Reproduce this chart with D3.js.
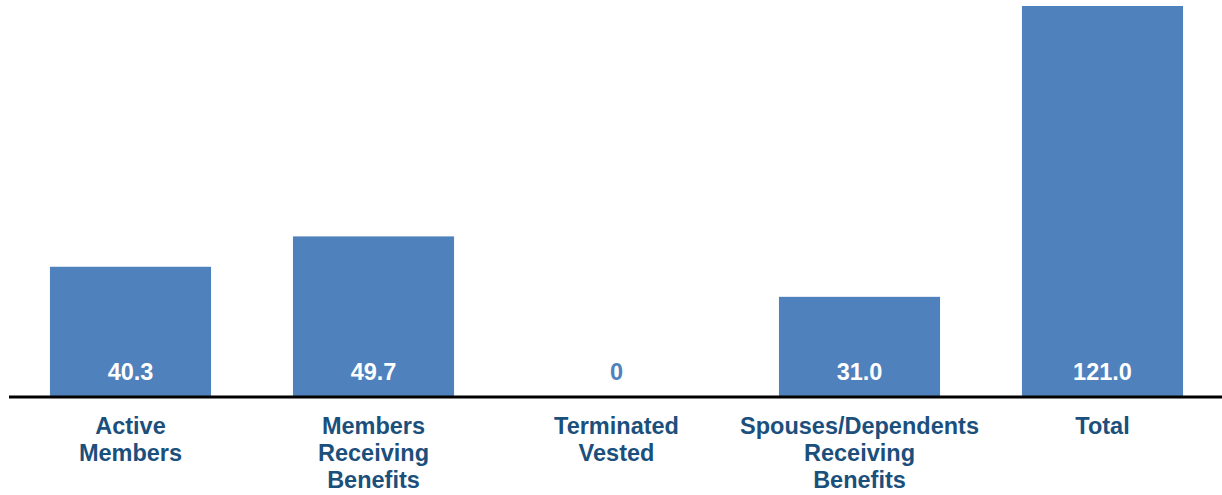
<!DOCTYPE html>
<html>
<head>
<meta charset="utf-8">
<script src="https://cdn.jsdelivr.net/npm/d3@7"></script>
<style>
  html, body { margin: 0; padding: 0; background: #fff; }
  svg { display: block; font-family: "Liberation Sans", Arial, sans-serif; }
</style>
</head>
<body>
<svg id="chart" width="1222" height="495"></svg>
<script>
// Membership counts by category
const categories = [
  ["Active", "Members"],
  ["Members", "Receiving", "Benefits"],
  ["Terminated", "Vested"],
  ["Spouses/Dependents", "Receiving", "Benefits"],
  ["Total"]
];
const values = [40.3, 49.7, 0, 31.0, 121.0];
const valueLabels = ["40.3", "49.7", "0", "31.0", "121.0"];

const barColor = "#4F81BD";
const textColor = "#1B4F7C";

const svg = d3.select("#chart");
const W = 1222;
const baseY = 397;

const x = d3.scaleBand()
  .domain(d3.range(values.length))
  .range([9, 1224])
  .paddingInner(0.337)
  .paddingOuter(0.1685);

const y = d3.scaleLinear()
  .domain([0, 121])
  .range([baseY, 6]);

// Bars
svg.append("g").selectAll("rect")
  .data(values)
  .join("rect")
  .attr("x", (d, i) => x(i))
  .attr("width", x.bandwidth())
  .attr("y", d => y(d))
  .attr("height", d => baseY - y(d))
  .attr("fill", barColor);

// Value labels inside bars, near the base
svg.append("g").selectAll("text")
  .data(values)
  .join("text")
  .attr("x", (d, i) => x(i) + x.bandwidth() / 2)
  .attr("y", 380)
  .attr("text-anchor", "middle")
  .attr("font-size", 23.5)
  .attr("font-weight", "bold")
  .attr("fill", d => d > 0 ? "#ffffff" : barColor)
  .text((d, i) => valueLabels[i]);

// Baseline
svg.append("line")
  .attr("x1", 9).attr("x2", W)
  .attr("y1", baseY).attr("y2", baseY)
  .attr("stroke", "#000")
  .attr("stroke-width", 3);

// Category labels
const cat = svg.append("g").selectAll("text")
  .data(categories)
  .join("text")
  .attr("text-anchor", "middle")
  .attr("font-size", 23.5)
  .attr("font-weight", "bold")
  .attr("fill", textColor);

cat.each(function(lines, i) {
  d3.select(this).selectAll("tspan")
    .data(lines)
    .join("tspan")
    .attr("x", x(i) + x.bandwidth() / 2)
    .attr("y", (l, j) => 434 + j * 27)
    .text(l => l);
});
</script>
</body>
</html>
